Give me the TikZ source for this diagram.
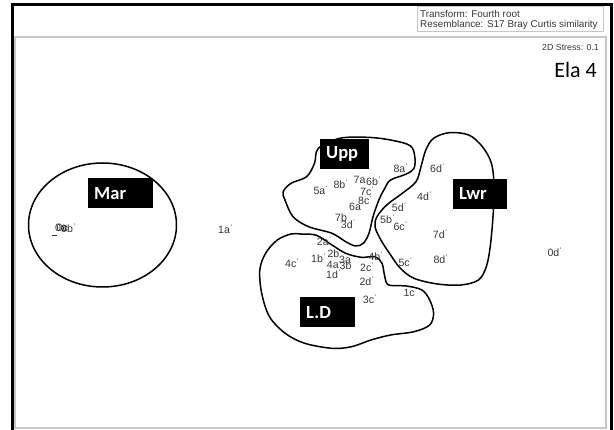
\documentclass[tikz,border=0pt]{standalone}
\usepackage{fontspec}
\setmainfont{Liberation Sans}
\newfontfamily\calib{Carlito}
\definecolor{labgray}{HTML}{383838}
\definecolor{framegray}{HTML}{C8C8C8}
\newcommand{\smk}{\kern0.6pt\raisebox{0.7ex}{\fontsize{7}{7}\selectfont `}}
\begin{document}
\begin{tikzpicture}[x=1pt,y=-1pt,
  smp/.style={anchor=west,inner sep=0pt,text=labgray,font=\fontsize{10.6}{11}\selectfont},
  grpbox/.style={fill=black,text=white,font=\calib\bfseries\fontsize{18.5}{18.5}\selectfont,
    anchor=north west,inner xsep=6pt,inner ysep=0pt,align=left,minimum height=30pt},
  hull/.style={draw=black,line width=1.5pt,line join=round},
  hdr/.style={anchor=west,inner sep=0pt,text=labgray,font=\fontsize{9.9}{10}\selectfont}]
\fill[white] (0,0) rectangle (614,430);
\useasboundingbox (0,0) rectangle (614,430);
% frames
\draw[framegray,line width=2pt] (15,37) rectangle (606,428.5);
\draw[black,line width=3pt] (12.5,432) -- (12.5,4.5) -- (611.5,4.5) -- (611.5,432);
\draw[framegray,line width=1pt] (417.5,6.5) rectangle (603.5,31.5);
\node[hdr] (t1) at (420,13.5) {Transform: Fourth root};
\node[hdr] (t2) at (420,25) {Resemblance: S17 Bray Curtis similarity};
\node[anchor=east,inner sep=0pt,text=labgray,font=\fontsize{8.8}{10}\selectfont] (stress) at (599,47.5) {2D Stress: 0.1};
\node[anchor=east,inner sep=0pt,font=\calib\fontsize{22}{24}\selectfont] (ela) at (597,70) {Ela 4};
% hulls
\draw[hull] (102.5,225) ellipse [x radius=74, y radius=62];
\draw[hull] plot[smooth cycle,tension=0.55] coordinates {
 (318.4,148.3) (339.8,138.3) (367.2,137.3) (390.6,140) (410.2,145.7) (414.8,156.7)
 (414,168.3) (406.3,174) (390.6,180) (384.8,188.3) (378.9,200) (373,216.7)
 (369,233.3) (363.3,243.3) (355.5,246) (345.7,241.7) (332,233.3) (308.6,226.7)
 (293,216.7) (285,200) (283.2,191.7) (291,183.3) (306.6,176.7) (314.5,163.3)};
\draw[hull] plot[smooth cycle,tension=0.55] coordinates {
 (449.2,132.7) (468.8,135) (482.4,146.7) (491.4,163.3) (494.1,186.7) (493,216.7)
 (490.2,246.7) (486.3,266.7) (478.5,280) (461,285) (437.5,284) (414,278.3)
 (400.4,268.3) (390.6,255) (380.9,240) (375,226.7) (377,216.7) (386.7,205)
 (402.3,193.3) (416,181.7) (421,166.7) (425.8,150) (433.6,138.3)};
\draw[hull] plot[smooth cycle,tension=0.55] coordinates {
 (300.8,234) (316.4,235.3) (332,245) (345.7,253.3) (361.3,257.3) (375,256.7)
 (382,263.3) (384.8,276.7) (388.7,285) (406.3,286) (421.9,290) (429.7,300)
 (433.6,313.3) (429.7,325) (414,331.7) (390.6,335) (371,340) (351.6,346.7)
 (332,348.3) (304.7,343.3) (285.2,333.3) (269.5,316.7) (261.7,293.3) (259.8,270)
 (265.6,253.3) (277.3,240) (291,234)};
% group labels
\node[grpbox,text width=53pt] (mar) at (88,178) {Mar};
\node[grpbox,text width=37pt] (upp) at (320,139) {Upp};
\node[grpbox,text width=42pt] (lwr) at (453,178.5) {Lwr};
\node[grpbox,text width=43pt] (ld) at (300,297) {L.D};
% samples
\node[smp] (s0a) at (55,228) {0a};
\node[smp] (s0c) at (56.5,228) {0c};
\node[smp] (s0b) at (61,228) {0b\smk};
\coordinate (u1) at (52,235.5);
\coordinate (u2) at (57,235.5);
\draw[labgray,line width=0.8pt] (u1) -- (u2);
\node[smp] (s1a) at (218,229) {1a\smk};
\node[smp] (s5a) at (313.3,190) {5a\smk};
\node[smp] (s8b) at (333.3,184.3) {8b\smk};
\node[smp] (s7a) at (353.5,180) {7a};
\node[smp] (s6b) at (366,181) {6b\smk};
\node[smp] (s8a) at (393.3,167.7) {8a\smk};
\node[smp] (s6d) at (430,168.5) {6d\smk};
\node[smp] (s7c) at (360,191) {7c\smk};
\node[smp] (s8c) at (358,200) {8c\smk};
\node[smp] (s6a) at (349,207.3) {6a};
\node[smp] (s4d) at (417,196) {4d\smk};
\node[smp] (s5d) at (391.7,207.3) {5d\smk};
\node[smp] (s7b) at (335,217.7) {7b};
\node[smp] (s3d) at (340.7,224) {3d\smk};
\node[smp] (s5b) at (380,219.3) {5b\smk};
\node[smp] (s6c) at (393.3,226.3) {6c\smk};
\node[smp] (s7d) at (432.7,234) {7d\smk};
\node[smp] (s2a) at (316.7,240.7) {2a\smk};
\node[smp] (s4c) at (285,262.7) {4c\smk};
\node[smp] (s1b) at (311,258.3) {1b\smk};
\node[smp] (s2b) at (327.3,253.3) {2b};
\node[smp] (s3a) at (339,259.5) {3a};
\node[smp] (s4a) at (326.7,264.5) {4a};
\node[smp] (s3b) at (339.5,266) {3b};
\node[smp] (s4b) at (368.3,256) {4b\smk};
\node[smp] (s2c) at (360,266.7) {2c\smk};
\node[smp] (s1d) at (326,274) {1d\smk};
\node[smp] (s2d) at (359.3,280.7) {2d\smk};
\node[smp] (s5c) at (398.3,261.7) {5c\smk};
\node[smp] (s8d) at (433.3,258.8) {8d\smk};
\node[smp] (s3c) at (362.7,299.3) {3c\smk};
\node[smp] (s1c) at (403.3,292.7) {1c};
\node[smp] (s0d) at (547.3,251.7) {0d\smk};
\end{tikzpicture}
\end{document}
